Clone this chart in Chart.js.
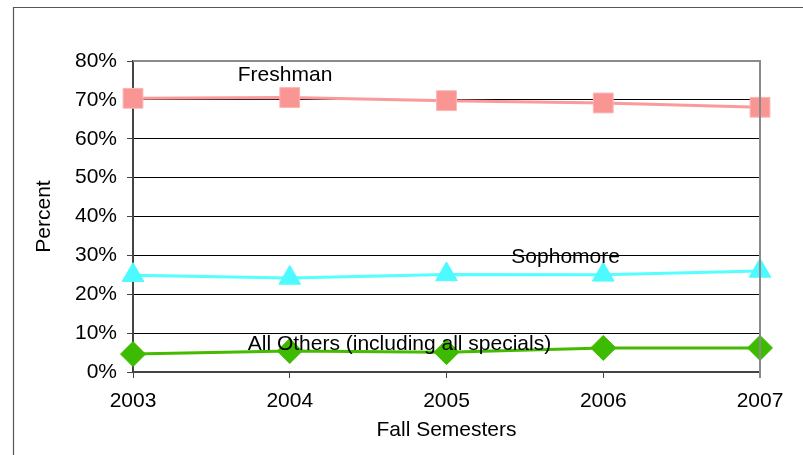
<!DOCTYPE html>
<html>
<head>
<meta charset="utf-8">
<script src="https://cdn.jsdelivr.net/npm/chart.js@4"></script>
<style>
  html, body { margin: 0; padding: 0; background: #fff; }
  #wrap { width: 803px; height: 455px; }
</style>
</head>
<body>
<div id="wrap"><canvas id="myChart" width="803" height="455"></canvas></div>
<script>
// datos
const years = ['2003', '2004', '2005', '2006', '2007']
const freshman = [70.4, 70.6, 69.8, 69.2, 68.1]
const sophomore = [24.9, 24.2, 25.1, 25.0, 26.0]
const allOthers = [4.6, 5.4, 5.1, 6.2, 6.2]
const yTicks = [0, 10, 20, 30, 40, 50, 60, 70, 80]

// etiquetas de las series: [texto, indice x, valor y]
const seriesLabels = [
    ['Freshman', 0.97, 76.4],
    ['Sophomore', 2.76, 29.6],
    ['All Others (including all specials)', 1.70, 7.2]
]

const fuente = 'Liberation Sans, Arial, sans-serif'
const tam = 21

const decor = {
    id: 'decor',
    beforeDraw(chart) {
        const ctx = chart.ctx
        ctx.save()
        ctx.fillStyle = '#fff'
        ctx.fillRect(0, 0, chart.width, chart.height)
        ctx.restore()
    },
    afterDatasetsDraw(chart) {
        const ctx = chart.ctx
        const x = chart.scales.x
        const y = chart.scales.y
        ctx.save()
        ctx.fillStyle = '#000'
        ctx.font = tam + 'px ' + fuente
        ctx.textAlign = 'center'
        ctx.textBaseline = 'middle'
        seriesLabels.forEach(l => {
            ctx.fillText(l[0], x.getPixelForValue(l[1]), y.getPixelForValue(l[2]))
        })
        ctx.restore()
    },
    afterDraw(chart) {
        const ctx = chart.ctx
        const a = chart.chartArea
        ctx.save()
        // borde del area de datos (arriba y derecha)
        ctx.strokeStyle = '#8a8a8a'
        ctx.lineWidth = 2
        ctx.beginPath()
        ctx.moveTo(a.left, a.top)
        ctx.lineTo(a.right, a.top)
        ctx.lineTo(a.right, a.bottom + 6)
        ctx.stroke()
        // marco exterior
        ctx.strokeStyle = '#555'
        ctx.lineWidth = 1.2
        ctx.beginPath()
        ctx.moveTo(13.5, chart.height)
        ctx.lineTo(13.5, 7.5)
        ctx.lineTo(chart.width, 7.5)
        ctx.stroke()
        ctx.restore()
    }
}

const ctx = document.getElementById('myChart')

new Chart(ctx, {
    type: 'line',
    data: {
        labels: years,
        datasets: [{
            label: 'Freshman',
            data: freshman,
            borderColor: '#FA9A9A',
            backgroundColor: '#F99592',
            pointBorderColor: '#FBB4B2',
            borderWidth: 3,
            pointStyle: 'rect',
            pointRadius: 14,
            pointBorderWidth: 1
        }, {
            label: 'Sophomore',
            data: sophomore,
            borderColor: '#55FFFF',
            backgroundColor: '#4DFAFF',
            pointBorderColor: '#4DFAFF',
            borderWidth: 3,
            pointStyle: 'triangle',
            pointRadius: 12.5,
            pointBorderWidth: 1
        }, {
            label: 'All Others (including all specials)',
            data: allOthers,
            borderColor: '#44BB00',
            backgroundColor: '#3DBB00',
            pointBorderColor: '#3DBB00',
            borderWidth: 3,
            pointStyle: 'rectRot',
            pointRadius: 12.5,
            pointBorderWidth: 1
        }]
    },
    options: {
        responsive: false,
        animation: false,
        layout: {
            padding: { left: 32, right: 43, top: 61, bottom: 0 }
        },
        plugins: {
            legend: { display: false },
            tooltip: { enabled: false }
        },
        scales: {
            x: {
                offset: false,
                afterFit: s => { s.height = 83 },
                grid: {
                    drawOnChartArea: false,
                    drawTicks: true,
                    tickLength: 6,
                    color: '#444',
                    lineWidth: 1
                },
                border: { color: '#444', width: 2 },
                ticks: {
                    color: '#000',
                    padding: 11,
                    maxRotation: 0,
                    font: { family: fuente, size: tam }
                },
                title: {
                    display: true,
                    text: 'Fall Semesters',
                    color: '#000',
                    padding: { top: 0, bottom: 12 },
                    font: { family: fuente, size: tam }
                }
            },
            y: {
                min: 0,
                max: 80,
                afterFit: s => { s.width = 101 },
                afterBuildTicks: s => { s.ticks = yTicks.map(v => ({ value: v })) },
                grid: {
                    color: '#000',
                    lineWidth: 1,
                    tickLength: 6,
                    tickColor: '#444'
                },
                border: { color: '#444', width: 2 },
                ticks: {
                    color: '#000',
                    padding: 10,
                    font: { family: fuente, size: tam },
                    callback: v => v + '%'
                },
                title: {
                    display: true,
                    text: 'Percent',
                    color: '#000',
                    padding: { top: 0, bottom: 4 },
                    font: { family: fuente, size: tam }
                }
            }
        }
    },
    plugins: [decor]
})
</script>
</body>
</html>
